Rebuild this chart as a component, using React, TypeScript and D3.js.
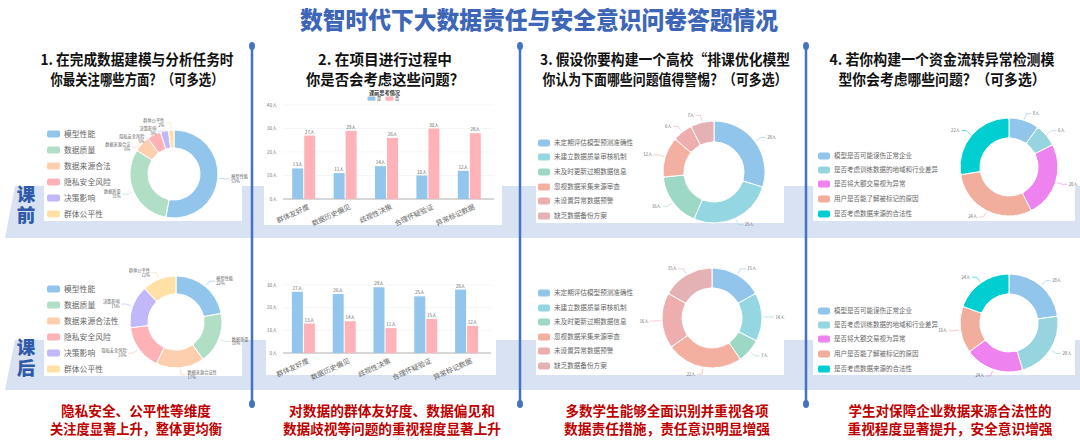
import React from 'react';
import * as d3 from 'd3';

const W = 1080;
const H = 441;
const FONT = "'Noto Sans CJK SC', 'Noto Sans', sans-serif";

// ---------- data ----------
const titleText = '数智时代下大数据责任与安全意识问卷答题情况';
const questions = [
  ['1. 在完成数据建模与分析任务时', '你最关注哪些方面？（可多选）'],
  ['2.  在项目进行过程中', '你是否会考虑这些问题？'],
  ['3. 假设你要构建一个高校“排课优化模型', '你认为下面哪些问题值得警惕？（可多选）'],
  ['4. 若你构建一个资金流转异常检测模', '型你会考虑哪些问题？（可多选）'],
];
const conclusions = [
  ['隐私安全、公平性等维度', '关注度显著上升，整体更均衡'],
  ['对数据的群体友好度、数据偏见和', '数据歧视等问题的重视程度显著上升'],
  ['多数学生能够全面识别并重视各项', '数据责任措施，责任意识明显增强'],
  ['学生对保障企业数据来源合法性的', '重视程度显著提升，安全意识增强'],
];
const sideLabels = ['课前', '课后'];

const q1NamesBefore = ['模型性能', '数据质量', '数据来源合法', '隐私安全风险', '决策影响', '群体公平性'];
const q1NamesAfter = ['模型性能', '数据质量', '数据来源合法性', '隐私安全风险', '决策影响', '群体公平性'];
const q1Before = [53, 31, 6, 5, 3, 2];
const q1After = [22, 18, 17, 16, 15, 12];
const q1Colors = ['#92c5ec', '#b0dfc6', '#fdcfae', '#ffb2b6', '#c1b8fc', '#ffe1a6'];

const q2Categories = ['群体友好度', '数据历史偏见', '歧视性决策', '合理怀疑验证', '异常标记数据'];
const q2BeforeYes = [13, 11, 14, 10, 12];
const q2BeforeNo = [27, 29, 26, 30, 28];
const q2AfterYes = [27, 26, 29, 25, 28];
const q2AfterNo = [13, 14, 11, 15, 12];
const q2BeforeTicks = [0, 10, 20, 30, 40];
const q2AfterTicks = [0, 10, 20, 30];
const q2Series = ['是', '否'];
const q2Colors = ['#93c6ec', '#ffb3b8'];

const q3Names = ['未定期评估模型预测准确性', '未建立数据质量审核机制', '未及时更新过期数据信息', '忽视数据采集来源审查', '未设置异常数据预警', '缺乏数据备份方案'];
const q3Before = [28, 25, 16, 12, 6, 7];
const q3After = [15, 14, 7, 22, 16, 15];
const q3Colors = ['#92c5ec', '#94d6e1', '#9dd8c6', '#f3b0a0', '#efaeae', '#e4b2b4'];

const q4Names = ['模型是否可能误伤正常企业', '是否考虑训练数据的地域和行业差异', '是否将大额交易视为异常', '用户是否能了解被标记的原因', '是否考虑数据来源的合法性'];
const q4Before = [8, 6, 20, 24, 22];
const q4After = [28, 28, 24, 19, 24];
const q4Colors = ['#92c5ec', '#96d4e0', '#ee82ee', '#f2ae9c', '#00ced1'];

// ---------- components ----------
type Slice = d3.PieArcDatum<number>;

function Donut({ cx, cy, ro, ri, values, colors, labels }: { cx: number; cy: number; ro: number; ri: number; values: number[]; colors: string[]; labels: string[][] }) {
  const pie = d3.pie<number>().sort(null).value((d) => d);
  const arcs = pie(values);
  const arc = d3.arc<Slice>().innerRadius(ri).outerRadius(ro).cornerRadius(2);
  type L = { i: number; sx: number; sy: number; px: number; py: number; right: boolean };
  const ls: L[] = arcs.map((a, i) => {
    const mid = (a.startAngle + a.endAngle) / 2;
    const sx = Math.sin(mid), sy = -Math.cos(mid);
    return { i, sx, sy, px: sx * (ro + 7), py: sy * (ro + 7), right: sx >= 0 };
  });
  const minGap = labels[0].length > 1 ? 8 : 5;
  [true, false].forEach((side) => {
    const g = ls.filter((l) => l.right === side).sort((a, b) => a.py - b.py);
    for (let k = 1; k < g.length; k++) {
      if (g[k].py - g[k - 1].py < minGap) g[k].py = g[k - 1].py + minGap;
    }
    for (let k = g.length - 2; k >= 0; k--) {
      if (g[k + 1].py - g[k].py < minGap) g[k].py = g[k + 1].py - minGap;
    }
  });
  return (
    <g transform={`translate(${cx},${cy})`}>
      {arcs.map((a, i) => (
        <path key={i} d={arc(a) || ''} fill={colors[i]} stroke="#fff" strokeWidth={1} />
      ))}
      {ls.map((l) => {
        const x0 = l.sx * (ro + 1.5), y0 = l.sy * (ro + 1.5);
        const x2 = l.px + (l.right ? 5 : -5);
        const lines = labels[l.i];
        return (
          <g key={'l' + l.i}>
            <polyline points={`${x0},${y0} ${l.px},${l.py} ${x2},${l.py}`} fill="none" stroke={colors[l.i]} strokeWidth={0.6} />
            <text x={x2 + (l.right ? 1.5 : -1.5)} y={l.py - (lines.length - 1) * 2.4 + 1.5} fontSize={4.2} fill="#666" textAnchor={l.right ? 'start' : 'end'} fontFamily={FONT}>
              {lines.map((t, k) => (
                <tspan key={k} x={x2 + (l.right ? 1.5 : -1.5)} dy={k === 0 ? 0 : 4.8}>{t}</tspan>
              ))}
            </text>
          </g>
        );
      })}
    </g>
  );
}

function Legend({ x, ys, names, colors, fontSize, sw }: { x: number; ys: number[]; names: string[]; colors: string[]; fontSize: number; sw: number }) {
  return (
    <g>
      {names.map((n, i) => (
        <g key={i}>
          <rect x={x} y={ys[i] - 3.5} width={sw} height={7} rx={2} fill={colors[i]} />
          <text x={x + sw + 4} y={ys[i] + fontSize * 0.36} fontSize={fontSize} fill="#666" fontFamily={FONT}>{n}</text>
        </g>
      ))}
    </g>
  );
}

function Bars({ x0, x1, yTop, y0, ticks, yes, no, title }: { x0: number; x1: number; yTop: number; y0: number; ticks: number[]; yes: number[]; no: number[]; title?: boolean }) {
  const y = d3.scaleLinear().domain([0, ticks[ticks.length - 1]]).range([y0, yTop]);
  const x = d3.scaleBand<string>().domain(q2Categories).range([x0, x1]);
  const bw = 11;
  const cx = (c: string) => (x(c) as number) + x.bandwidth() / 2;
  return (
    <g fontFamily={FONT}>
      {title && (
        <g>
          <text x={(x0 + x1) / 2 - 2} y={yTop - 10.5} fontSize={5.2} fontWeight={700} fill="#333" textAnchor="middle">课前思考情况</text>
          {q2Series.map((s, i) => (
            <g key={s}>
              <rect x={(x0 + x1) / 2 - 19 + i * 18} y={yTop - 8.5} width={8} height={4.2} rx={1} fill={q2Colors[i]} />
              <text x={(x0 + x1) / 2 - 9.5 + i * 18} y={yTop - 4.8} fontSize={4.3} fill="#333">{s}</text>
            </g>
          ))}
        </g>
      )}
      {ticks.map((t) => (
        <g key={t}>
          <line x1={x0} x2={x1 + 4} y1={y(t)} y2={y(t)} stroke={t === 0 ? '#999' : '#eef0f4'} strokeWidth={t === 0 ? 0.8 : 0.6} />
          <text x={x0 - 6} y={y(t) + 1.6} fontSize={4.8} fill="#777" textAnchor="end">{t}人</text>
        </g>
      ))}
      {q2Categories.map((c, i) => (
        <g key={c}>
          <rect x={cx(c) - bw - 0.5} y={y(yes[i])} width={bw} height={y0 - y(yes[i])} fill={q2Colors[0]} />
          <rect x={cx(c) + 0.5} y={y(no[i])} width={bw} height={y0 - y(no[i])} fill={q2Colors[1]} />
          <text x={cx(c) - bw / 2 - 0.5} y={y(yes[i]) - 2} fontSize={4.6} fill="#666" textAnchor="middle">{yes[i]}人</text>
          <text x={cx(c) + bw / 2 + 0.5} y={y(no[i]) - 2} fontSize={4.6} fill="#666" textAnchor="middle">{no[i]}人</text>
          <text transform={`translate(${cx(c) + 4},${y0 + 5}) rotate(-25)`} fontSize={7} fill="#666" textAnchor="end" dy={5}>{c}</text>
        </g>
      ))}
    </g>
  );
}

const pctLabels = (names: string[], vals: number[]) => names.map((n, i) => [n, `${vals[i]}%`]);
const pplLabels = (vals: number[]) => vals.map((v) => [`${v}人`]);

export default function App() {
  const dividerX = [252, 520, 806];
  const qCenters = [137, 385, 665, 942];
  const qWidths = [[193, 173], [134, 158], [250, 245], [225, 207]];
  const cCenters = [136, 392, 667, 950];
  const cWidths = [[150, 172], [206, 218], [203, 206], [203, 205]];
  const yL1 = [134, 150, 166, 182, 198, 214];
  const yL1b = [289, 305, 321, 337, 353, 369];
  const yL3 = [143, 157, 172, 187, 201, 216];
  const yL3b = [293, 308, 322, 337, 351, 366];
  const yL4 = [156, 170, 184, 199, 214];
  const yL4b = [311, 325, 339, 354, 369];
  const sideY = [185, 338];
  return (
    <svg width={W} height={H} style={{ position: 'fixed', left: 0, top: 0, background: '#fff' }} fontFamily={FONT}>
      <rect x={0} y={0} width={W} height={H} fill="#fff" />
      {/* bands */}
      <polygon points="15,186 1080,186 1080,238 5,238" fill="#d9e2f3" />
      <polygon points="15,340 1080,340 1080,390 5,390" fill="#d9e2f3" />

      {/* title */}
      <text x={539} y={29} fontSize={24} fontWeight={900} fill="#3d66b8" textAnchor="middle" textLength={478} lengthAdjust="spacingAndGlyphs">{titleText}</text>

      {/* dividers */}
      {dividerX.map((x) => (
        <g key={x}>
          <line x1={x} x2={x} y1={46} y2={404} stroke="#4472c4" strokeWidth={2.5} />
          <ellipse cx={x} cy={46} rx={3} ry={4} fill="#4472c4" />
          <ellipse cx={x} cy={404} rx={3} ry={4} fill="#4472c4" />
        </g>
      ))}

      {/* questions */}
      {questions.map((q, i) => (
        <g key={i}>
          {q.map((t, k) => (
            <text key={k} x={qCenters[i]} y={65 + k * 20} fontSize={14.5} fontWeight={700} fill="#111" textAnchor="middle" textLength={qWidths[i][k]} lengthAdjust="spacingAndGlyphs">{t}</text>
          ))}
        </g>
      ))}

      {/* side labels (vertical text) */}
      {sideLabels.map((t, k) => (
        <text key={t} x={26} y={sideY[k]} fontSize={18.5} fontWeight={900} fill="#2f5aa8" style={{ writingMode: 'vertical-rl', letterSpacing: '2px' }}>{t}</text>
      ))}

      {/* white boxes */}
      <rect x={44} y={113} width={198} height={108} fill="#fff" />
      <rect x={44} y={268} width={198} height={108} fill="#fff" />
      <rect x={264} y={89} width={238} height={136} fill="#fff" />
      <rect x={266} y={270} width={230} height={105} fill="#fff" />
      <rect x={536} y={112} width={248} height={111} fill="#fff" />
      <rect x={536} y={266} width={248} height={109} fill="#fff" />
      <rect x={813} y={108} width={262} height={113} fill="#fff" />
      <rect x={813} y={266} width={262} height={109} fill="#fff" />

      {/* panel 1 */}
      <Legend x={47} ys={yL1} names={q1NamesBefore} colors={q1Colors} fontSize={7.8} sw={13} />
      <Donut cx={174} cy={174} ro={44} ri={26} values={q1Before} colors={q1Colors} labels={pctLabels(q1NamesBefore, q1Before)} />
      <Legend x={47} ys={yL1b} names={q1NamesAfter} colors={q1Colors} fontSize={7.8} sw={13} />
      <Donut cx={176} cy={322} ro={46} ri={28} values={q1After} colors={q1Colors} labels={pctLabels(q1NamesAfter, q1After)} />

      {/* panel 2 */}
      <Bars x0={283} x1={490} yTop={105} y0={199} ticks={q2BeforeTicks} yes={q2BeforeYes} no={q2BeforeNo} title />
      <Bars x0={283} x1={487} yTop={285} y0={353} ticks={q2AfterTicks} yes={q2AfterYes} no={q2AfterNo} />

      {/* panel 3 */}
      <Legend x={538} ys={yL3} names={q3Names} colors={q3Colors} fontSize={6.6} sw={12} />
      <Donut cx={714} cy={172} ro={51} ri={30} values={q3Before} colors={q3Colors} labels={pplLabels(q3Before)} />
      <Legend x={538} ys={yL3b} names={q3Names} colors={q3Colors} fontSize={6.6} sw={12} />
      <Donut cx={712} cy={318} ro={50} ri={30} values={q3After} colors={q3Colors} labels={pplLabels(q3After)} />

      {/* panel 4 */}
      <Legend x={818} ys={yL4} names={q4Names} colors={q4Colors} fontSize={6.5} sw={12} />
      <Donut cx={1009} cy={167} ro={49} ri={29} values={q4Before} colors={q4Colors} labels={pplLabels(q4Before)} />
      <Legend x={818} ys={yL4b} names={q4Names} colors={q4Colors} fontSize={6.5} sw={12} />
      <Donut cx={1009} cy={323} ro={49} ri={29} values={q4After} colors={q4Colors} labels={pplLabels(q4After)} />

      {/* conclusions */}
      {conclusions.map((c, i) => (
        <g key={i}>
          {c.map((t, k) => (
            <text key={k} x={cCenters[i]} y={416 + k * 18} fontSize={14} fontWeight={700} fill="#c00000" textAnchor="middle" textLength={cWidths[i][k]} lengthAdjust="spacingAndGlyphs">{t}</text>
          ))}
        </g>
      ))}
    </svg>
  );
}
